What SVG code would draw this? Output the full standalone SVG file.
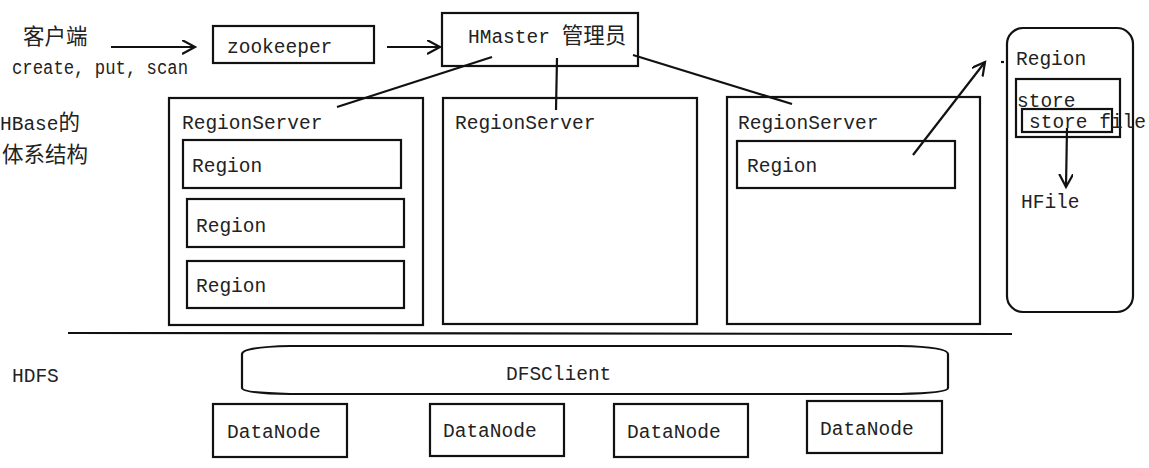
<svg xmlns="http://www.w3.org/2000/svg" width="1149" height="468" viewBox="0 0 1149 468">
<style>
.box{fill:none;stroke:#111;stroke-width:2.2}
.ln{fill:none;stroke:#111;stroke-width:2.2}
.t{font-family:"Liberation Mono","Noto Sans CJK SC",monospace;font-size:19.5px;fill:#222}
.c{font-family:"Noto Sans CJK SC",sans-serif;font-size:21.5px;fill:#222}
</style>
<defs>
<marker id="ah" markerUnits="userSpaceOnUse" markerWidth="16" markerHeight="16" refX="13" refY="7" orient="auto">
<path d="M0,0 L13,7 L0,14" fill="none" stroke="#111" stroke-width="2.2"/>
</marker>
</defs>
<rect width="1149" height="468" fill="#fff"/>

<g id="client">
<text class="c" x="23" y="44">客户端</text>
<text class="t" x="12" y="74" textLength="176" lengthAdjust="spacingAndGlyphs">create, put, scan</text>
</g>
<g id="title">
<text class="t" x="0" y="130">HBase<tspan class="c">的</tspan></text>
<text class="c" x="2" y="162">体系结构</text>
</g>
<g id="zookeeper">
<rect class="box" x="213" y="26" width="161" height="37"/>
<text class="t" x="227" y="53">zookeeper</text>
</g>
<g id="hmaster">
<rect class="box" x="442" y="13" width="196" height="53"/>
<text class="t" x="468" y="43">HMaster <tspan class="c">管理员</tspan></text>
</g>
<g id="rs1">
<rect class="box" x="169" y="98" width="254" height="227"/>
<text class="t" x="182" y="129">RegionServer</text>
<rect class="box" x="183" y="140" width="218" height="48"/>
<text class="t" x="192" y="172">Region</text>
<rect class="box" x="187" y="199" width="217" height="48"/>
<text class="t" x="196" y="232">Region</text>
<rect class="box" x="187" y="261" width="217" height="47"/>
<text class="t" x="196" y="292">Region</text>
</g>
<g id="rs2">
<rect class="box" x="443" y="98" width="254" height="226"/>
<text class="t" x="455" y="129">RegionServer</text>
</g>
<g id="rs3">
<rect class="box" x="727" y="97" width="253" height="227"/>
<text class="t" x="738" y="129">RegionServer</text>
<rect class="box" x="737" y="141" width="218" height="47"/>
<text class="t" x="747" y="172">Region</text>
</g>
<g id="region-detail">
<rect class="box" x="1007" y="28" width="126" height="284" rx="16" ry="16"/>
<text class="t" x="1016" y="65">Region</text>
<rect class="box" x="1016" y="79" width="104" height="58"/>
<text class="t" x="1017" y="107">store</text>
<rect class="box" x="1022" y="109" width="90" height="23"/>
<text class="t" x="1029" y="128">store file</text>
<text class="t" x="1021" y="208">HFile</text>
</g>
<g id="separator">
<line class="ln" x1="68" y1="333" x2="1012" y2="334"/>
</g>
<g id="hdfs">
<text class="t" x="12" y="382">HDFS</text>
</g>
<g id="dfsclient">
<path class="box" d="M290,346 L900,346 Q948,347 948,354 L948,388 Q948,393 900,394 L290,394 Q242,393 242,388 L242,354 Q242,347 290,346 Z"/>
<text class="t" x="506" y="380">DFSClient</text>
</g>
<g id="dn1">
<rect class="box" x="213" y="404" width="134" height="53"/>
<text class="t" x="227" y="438">DataNode</text>
</g>
<g id="dn2">
<rect class="box" x="430" y="404" width="134" height="52"/>
<text class="t" x="443" y="437">DataNode</text>
</g>
<g id="dn3">
<rect class="box" x="614" y="404" width="134" height="53"/>
<text class="t" x="627" y="438">DataNode</text>
</g>
<g id="dn4">
<rect class="box" x="807" y="401" width="135" height="52"/>
<text class="t" x="820" y="435">DataNode</text>
</g>

<g id="connectors">
<line class="ln" x1="111" y1="47" x2="195" y2="47" marker-end="url(#ah)"/>
<line class="ln" x1="387" y1="47" x2="440" y2="47" marker-end="url(#ah)"/>
<line class="ln" x1="492" y1="57" x2="337" y2="107"/>
<line class="ln" x1="557" y1="58" x2="556" y2="110"/>
<line class="ln" x1="633" y1="55" x2="792" y2="104"/>
<line class="ln" x1="913" y1="155" x2="985" y2="62" marker-end="url(#ah)"/>
<line class="ln" x1="1001" y1="62" x2="1004" y2="62"/>
<line class="ln" x1="1067" y1="128" x2="1066" y2="187" marker-end="url(#ah)"/>
</g>
</svg>
